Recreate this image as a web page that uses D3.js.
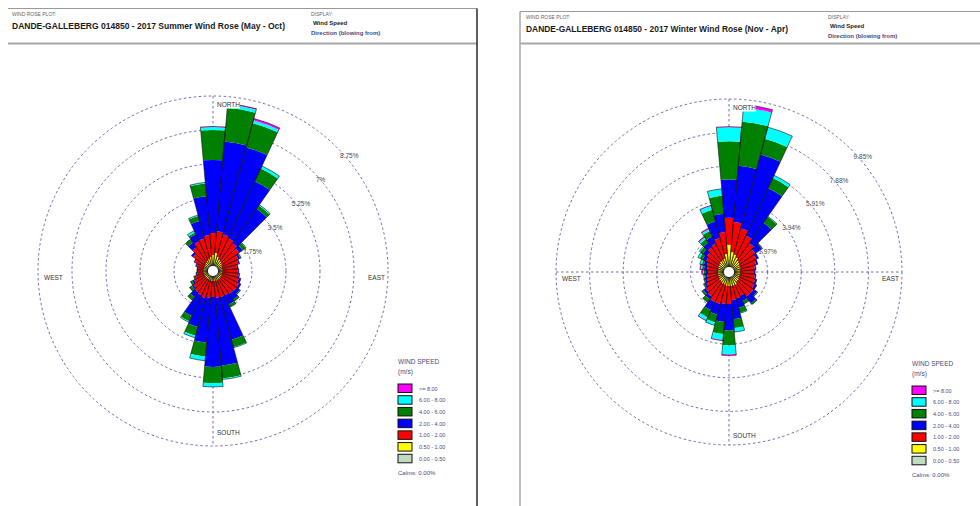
<!DOCTYPE html>
<html lang="en">
<head>
<meta charset="UTF-8">
<title>Dande-Galleberg 2017 Wind Roses</title>
<script src="https://d3js.org/d3.v7.min.js"></script>
<style>
  body { margin: 0; background: #fff; }
  svg { display: block; font-family: "Liberation Sans", Arial, sans-serif; }
</style>
</head>
<body>
<svg width="980" height="506"></svg>
<script>
// directions (blowing from), degrees
const directions = [0, 10, 20, 30, 40, 50, 60, 70, 80, 90, 100, 110, 120, 130, 140, 150, 160, 170,
                    180, 190, 200, 210, 220, 230, 240, 250, 260, 270, 280, 290, 300, 310, 320, 330, 340, 350];

// speed classes, from the centre outwards
const speedBins = ["0.00 - 0.50", "0.50 - 1.00", "1.00 - 2.00", "2.00 - 4.00", "4.00 - 6.00", "6.00 - 8.00", ">= 8.00"];
const binColors = ["#c0dcc0", "#ffff00", "#ff0000", "#0000ff", "#008000", "#00ffff", "#ff00ff"];

// frequency (%) per direction, one column per speed class
const summerFreq = [
  [0.10, 0.47, 1.13, 3.76, 1.54, 0.15, 0.03],
  [0.10, 0.57, 1.13, 4.63, 1.75, 0.16, 0.05],
  [0.10, 0.41, 1.19, 4.63, 1.29, 0.15, 0.10],
  [0.10, 0.31, 1.19, 3.24, 0.72, 0.15, 0],
  [0.10, 0.26, 1.13, 2.16, 0.21, 0.05, 0],
  [0.10, 0.21, 1.08, 0.21, 0.20, 0.02, 0],
  [0.10, 0.16, 0.92, 0.11, 0.05, 0, 0],
  [0.10, 0.14, 0.87, 0.05, 0, 0, 0],
  [0.10, 0.12, 0.77, 0.05, 0, 0, 0],
  [0.10, 0.12, 0.80, 0.05, 0, 0, 0],
  [0.10, 0.12, 0.85, 0.05, 0, 0, 0],
  [0.10, 0.12, 0.90, 0.11, 0, 0, 0],
  [0.10, 0.14, 0.98, 0.11, 0, 0, 0],
  [0.10, 0.14, 0.98, 0.20, 0.05, 0, 0],
  [0.10, 0.16, 0.93, 0.36, 0.10, 0, 0],
  [0.10, 0.16, 0.87, 0.52, 0.15, 0, 0],
  [0.10, 0.16, 0.87, 2.27, 0.41, 0.02, 0],
  [0.10, 0.16, 0.87, 3.50, 0.67, 0.05, 0],
  [0.10, 0.16, 0.82, 3.60, 0.83, 0.20, 0],
  [0.10, 0.16, 0.87, 2.32, 0.72, 0.21, 0],
  [0.10, 0.14, 0.95, 1.54, 0.46, 0.11, 0],
  [0.10, 0.12, 0.90, 1.18, 0.31, 0.05, 0],
  [0.10, 0.12, 0.85, 0.31, 0.20, 0, 0],
  [0.10, 0.12, 0.75, 0.10, 0.15, 0, 0],
  [0.10, 0.12, 0.60, 0.10, 0.10, 0, 0],
  [0.10, 0.12, 0.45, 0.05, 0.05, 0, 0],
  [0.10, 0.12, 0.35, 0.05, 0, 0, 0],
  [0.10, 0.12, 0.30, 0.05, 0, 0, 0],
  [0.10, 0.12, 0.30, 0.05, 0, 0, 0],
  [0.10, 0.12, 0.40, 0.05, 0, 0, 0],
  [0.10, 0.12, 0.55, 0.05, 0, 0, 0],
  [0.10, 0.14, 0.75, 0.11, 0, 0, 0],
  [0.10, 0.18, 0.95, 0.31, 0.20, 0, 0],
  [0.10, 0.22, 1.10, 0.41, 0.10, 0.10, 0],
  [0.10, 0.28, 1.10, 0.93, 0.26, 0.05, 0],
  [0.10, 0.36, 1.14, 2.00, 0.67, 0.05, 0]
];

const winterFreq = [
  [0.12, 1.18, 1.59, 2.24, 2.24, 0.83, 0.03],
  [0.12, 0.76, 1.77, 3.31, 2.59, 0.83, 0.18],
  [0.12, 0.65, 1.59, 4.48, 0.95, 0.71, 0],
  [0.12, 0.53, 1.41, 3.07, 0.65, 0.18, 0],
  [0.12, 0.41, 1.24, 1.47, 0.42, 0.03, 0],
  [0.12, 0.35, 1.12, 0.47, 0.05, 0, 0],
  [0.12, 0.29, 1.06, 0.15, 0, 0, 0],
  [0.12, 0.29, 0.95, 0.10, 0, 0, 0],
  [0.12, 0.23, 0.89, 0.06, 0, 0, 0],
  [0.12, 0.23, 0.83, 0.06, 0, 0, 0],
  [0.12, 0.23, 0.89, 0.06, 0, 0, 0],
  [0.12, 0.23, 0.95, 0.10, 0, 0, 0],
  [0.12, 0.23, 1.01, 0.15, 0, 0, 0],
  [0.12, 0.29, 1.06, 0.24, 0.05, 0, 0],
  [0.12, 0.29, 1.06, 0.47, 0.10, 0, 0],
  [0.12, 0.41, 0.71, 0.35, 0.18, 0, 0],
  [0.12, 0.41, 0.77, 0.59, 0.29, 0.03, 0],
  [0.12, 0.41, 0.83, 1.12, 0.53, 0.23, 0],
  [0.12, 0.41, 1.06, 1.54, 0.88, 0.53, 0.06],
  [0.12, 0.41, 1.06, 1.06, 0.71, 0.36, 0.03],
  [0.12, 0.35, 1.18, 0.65, 0.47, 0.18, 0],
  [0.12, 0.35, 1.18, 0.53, 0.47, 0.18, 0.03],
  [0.12, 0.29, 1.06, 0.18, 0.24, 0, 0],
  [0.12, 0.29, 0.95, 0.18, 0.12, 0, 0],
  [0.12, 0.23, 0.83, 0.12, 0.06, 0, 0],
  [0.12, 0.23, 0.71, 0.12, 0.06, 0, 0],
  [0.12, 0.23, 0.65, 0.12, 0.06, 0.03, 0],
  [0.12, 0.23, 0.59, 0.12, 0.12, 0.06, 0.06],
  [0.12, 0.23, 0.65, 0.18, 0.12, 0.06, 0.06],
  [0.12, 0.23, 0.71, 0.18, 0.12, 0.12, 0],
  [0.12, 0.29, 0.77, 0.24, 0.18, 0.12, 0],
  [0.12, 0.29, 0.89, 0.29, 0.18, 0.06, 0],
  [0.12, 0.35, 1.00, 0.35, 0.24, 0.12, 0.06],
  [0.12, 0.35, 1.06, 0.47, 0.36, 0.12, 0.06],
  [0.12, 0.41, 1.24, 1.00, 0.71, 0.24, 0.03],
  [0.12, 0.65, 1.29, 1.07, 1.06, 0.41, 0]
];

const summerRings = [1.75, 3.5, 5.25, 7, 8.75];
const summerRingLabels = ["1.75%", "3.5%", "5.25%", "7%", "8.75%"];
const winterRings = [1.97, 3.94, 5.91, 7.88, 9.85];
const winterRingLabels = ["1.97%", "3.94%", "5.91%", "7.88%", "9.85%"];

const summerTitle = "DANDE-GALLEBERG 014850 -  2017 Summer Wind Rose (May - Oct)";
const winterTitle = "DANDE-GALLEBERG 014850 -  2017 Winter Wind Rose (Nov - Apr)";
const calmsText = "Calms: 0.00%";

const svg = d3.select("svg");
const RING_COLOR = "#6c6cb4";
const CALM_R = 5;

// ---------- panel frame + header ----------
function drawHeader(p) {
  const h = svg.append("g");
  h.append("line").attr("x1", p.x0).attr("x2", p.x1).attr("y1", p.top).attr("y2", p.top)
    .attr("stroke", "#9a9a9a").attr("stroke-width", 1);
  h.append("line").attr("x1", p.x0).attr("x2", p.x1).attr("y1", 43.5).attr("y2", 43.5)
    .attr("stroke", "#a8a8a8").attr("stroke-width", 2);
  h.append("line").attr("x1", p.vx).attr("x2", p.vx).attr("y1", p.top).attr("y2", 506)
    .attr("stroke", p.vColor).attr("stroke-width", 1.5);

  h.append("text").attr("x", p.tx).attr("y", p.top + 7)
    .attr("font-size", 5).attr("fill", "#666").text("WIND ROSE PLOT:");
  h.append("text").attr("x", p.tx).attr("y", p.top + 20)
    .attr("font-size", 8.5).attr("font-weight", "bold").attr("fill", "#1a1a1a")
    .attr("textLength", p.titleW).attr("lengthAdjust", "spacingAndGlyphs")
    .text(p.title);
  h.append("text").attr("x", p.dx).attr("y", p.top + 7)
    .attr("font-size", 5).attr("fill", "#666").text("DISPLAY:");
  h.append("text").attr("x", p.dx + 2).attr("y", p.top + 16)
    .attr("font-size", 6).attr("font-weight", "bold").attr("fill", "#222").text("Wind Speed");
  h.append("text").attr("x", p.dx).attr("y", p.top + 26)
    .attr("font-size", 6).attr("font-weight", "bold").attr("fill", "#4a4a7a").text("Direction (blowing from)");
}

// ---------- rose ----------
function drawRose(c) {
  const g = svg.append("g").attr("transform", `translate(${c.cx},${c.cy})`);
  const r = d3.scaleLinear()
    .domain([0, c.rings[c.rings.length - 1]])
    .range([CALM_R, c.R]);

  g.selectAll("circle.ring").data(c.rings).join("circle")
    .attr("class", "ring")
    .attr("r", d => r(d))
    .attr("fill", "none")
    .attr("stroke", RING_COLOR)
    .attr("stroke-width", 1)
    .attr("stroke-dasharray", "2.5,2.5");

  g.append("line").attr("x1", 0).attr("x2", 0).attr("y1", -c.R).attr("y2", c.R)
    .attr("stroke", RING_COLOR).attr("stroke-dasharray", "2.5,2.5");
  if (c.hLine) {
    g.append("line").attr("x1", -c.R).attr("x2", c.R).attr("y1", 0).attr("y2", 0)
      .attr("stroke", RING_COLOR).attr("stroke-dasharray", "2.5,2.5");
  }

  // stacked wedges
  const half = 5 * Math.PI / 180;
  const arc = d3.arc();
  const segs = [], outlines = [];
  directions.forEach((dir, i) => {
    const row = c.freq[i];
    const cum = d3.cumsum(row);
    const a = dir * Math.PI / 180;
    row.forEach((v, j) => {
      if (v > 0) segs.push({ a, r0: r(cum[j] - v), r1: r(cum[j]), color: binColors[j] });
    });
    outlines.push({ a, r0: r(0), r1: r(cum[cum.length - 1]) });
  });

  g.selectAll("path.seg").data(segs).join("path")
    .attr("class", "seg")
    .attr("d", d => arc({ innerRadius: d.r0, outerRadius: d.r1, startAngle: d.a - half, endAngle: d.a + half }))
    .attr("fill", d => d.color);

  g.selectAll("path.outline").data(outlines).join("path")
    .attr("class", "outline")
    .attr("d", d => arc({ innerRadius: d.r0, outerRadius: d.r1, startAngle: d.a - half, endAngle: d.a + half }))
    .attr("fill", "none")
    .attr("stroke", "#111")
    .attr("stroke-width", 0.6);

  g.append("circle").attr("r", CALM_R).attr("fill", "#fff");

  // ring labels: start points on a 45deg line shifted right of the centre
  const shift = c.labelShift;
  const labelPos = rr => {
    const q = rr - 3;
    const t = (-2 * shift + Math.sqrt(4 * shift * shift - 8 * (shift * shift - q * q))) / 4;
    return [t + shift, -t];
  };
  g.selectAll("text.rl").data(c.rings).join("text")
    .attr("class", "rl")
    .attr("x", d => labelPos(r(d))[0])
    .attr("y", d => labelPos(r(d))[1] + 2.5)
    .attr("font-size", 6.5)
    .attr("fill", "#4a4a4a")
    .text((d, i) => c.ringLabels[i]);

  // compass labels
  const lab = [
    { t: "NORTH", x: 3, y: -c.R + 10.5, anchor: "start", box: true },
    { t: "SOUTH", x: 3, y: c.R - c.southOff, anchor: "start", box: true },
    { t: "WEST", x: -c.R + 6, y: 8.5, anchor: "start", box: false },
    { t: "EAST", x: c.R - 3, y: 8.5, anchor: "end", box: false }
  ];
  lab.forEach(l => {
    if (l.box) {
      g.append("rect").attr("x", l.x).attr("y", l.y - 6).attr("width", 24).attr("height", 8).attr("fill", "#fff");
    }
    g.append("text").attr("x", l.x + (l.box ? 1 : 0)).attr("y", l.y)
      .attr("text-anchor", l.anchor)
      .attr("font-size", 6.5).attr("fill", "#333").text(l.t);
  });
}

// ---------- legend ----------
function drawLegend(x, y) {
  const g = svg.append("g").attr("transform", `translate(${x},${y})`);
  g.append("text").attr("x", 0).attr("y", 0).attr("font-size", 6.5).attr("fill", "#4a4a80").text("WIND SPEED");
  g.append("text").attr("x", 0).attr("y", 10).attr("font-size", 6.5).attr("fill", "#4a4a80").text("(m/s)");
  const order = d3.range(speedBins.length).reverse();
  const row = d3.scaleBand().domain(order).range([20, 102]);
  const rows = g.selectAll("g.row").data(order).join("g")
    .attr("class", "row")
    .attr("transform", d => `translate(0,${row(d)})`);
  rows.append("rect").attr("width", 14).attr("height", 8.5)
    .attr("fill", d => binColors[d]).attr("stroke", "#111").attr("stroke-width", 1);
  rows.append("text").attr("x", 21).attr("y", 6.5).attr("font-size", 5.5).attr("fill", "#4a4a80")
    .text(d => speedBins[d]);
  g.append("text").attr("x", 0).attr("y", 111).attr("font-size", 6).attr("fill", "#4a4a80").text(calmsText);
}

drawHeader({ x0: 8, x1: 477, top: 8.5, vx: 477, vColor: "#2a2a2a", tx: 12, dx: 311, title: summerTitle, titleW: 273 });
drawHeader({ x0: 520, x1: 980, top: 11.5, vx: 520, vColor: "#a8a8a8", tx: 526, dx: 828, title: winterTitle, titleW: 262 });

drawRose({ cx: 213, cy: 271, R: 175, freq: summerFreq, rings: summerRings, ringLabels: summerRingLabels, hLine: false, southOff: 11, labelShift: 11 });
drawRose({ cx: 729, cy: 272, R: 173, freq: winterFreq, rings: winterRings, ringLabels: winterRingLabels, hLine: true, southOff: 7, labelShift: 9 });

drawLegend(398, 364);
drawLegend(912, 366);
</script>
</body>
</html>
